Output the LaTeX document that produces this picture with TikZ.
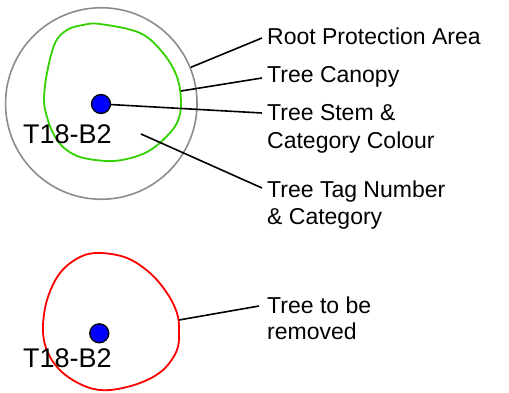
\documentclass[tikz,border=0pt]{standalone}
\usepackage{fontspec}
\setmainfont{Liberation Sans}
\definecolor{rpagrey}{HTML}{8C8C8C}
\definecolor{canopygreen}{HTML}{33D100}
\definecolor{removered}{HTML}{FF0000}
\definecolor{stemblue}{HTML}{0000FF}
\tikzset{
  lbl/.style={anchor=base west, inner sep=0pt, align=left, font=\fontsize{23}{28}\selectfont},
  tag/.style={anchor=base west, inner sep=0pt, font=\fontsize{27}{30}\selectfont},
  stemdot/.style={circle, draw=black, line width=1.3pt, fill=stemblue, minimum size=19pt, inner sep=0pt},
  leader/.style={draw=black, line width=1.6pt},
}
\begin{document}
\begin{tikzpicture}[x=1pt,y=-1pt]
\useasboundingbox (0,0) rectangle (509,393);
% upper tree
\node[circle, draw=rpagrey, line width=1.6pt, minimum size=191.5pt, inner sep=0pt] (rpa) at (101.3,103.5) {};
\draw[canopygreen, line width=1.8pt] plot[smooth cycle, tension=0.6] coordinates {
  (100,24) (140,33) (163,53) (177,77) (181,103) (177,123) (163,140) (147,152) (127,159)
  (107,161) (80,157) (63,147) (53,133) (47,117) (44,100) (47,73) (55,43) (67,30) (83,25)};
\coordinate (canopyedge) at (181,91);
\coordinate (tagpoint) at (141,134);
\node[stemdot] (stem) at (101,104) {};
\node[tag] (tagtext) at (23,143.3) {T18-B2};

% labels (multi-line labels are placed by the baseline of their last line)
\node[lbl] (lroot) at (267,45) {Root Protection Area};
\node[lbl] (lcanopy) at (267,83) {Tree Canopy};
\node[lbl] (lstem) at (267,149) {Tree Stem \&\\Category Colour};
\node[lbl, font=\fontsize{23}{27}\selectfont] (ltag) at (267,224) {Tree Tag Number\\\& Category};

\coordinate (eroot) at (262,38);
\coordinate (ecanopy) at (262,78);
\coordinate (estem) at (262,113);
\coordinate (etag) at (262,188);

\draw[leader] (rpa.22) -- (eroot);
\draw[leader] (canopyedge) -- (ecanopy);
\draw[leader] (stem) -- (estem);
\draw[leader] (tagpoint) -- (etag);

% lower tree
\draw[removered, line width=1.8pt] plot[smooth cycle, tension=0.6] coordinates {
  (100,253) (127,258) (150,273) (167,293) (177,313) (179,330) (177,350) (163,370) (140,383)
  (110,390) (87,387) (63,373) (48,353) (43,330) (47,300) (60,273) (80,257)};
\coordinate (removeedge) at (179,320);
\node[stemdot] (stemb) at (99.3,333.3) {};
\node[tag] (tagtextb) at (23,367.3) {T18-B2};
\node[lbl, font=\fontsize{23}{26}\selectfont] (lremove) at (267,339) {Tree to be\\removed};
\coordinate (eremove) at (259,306);
\draw[leader] (removeedge) -- (eremove);
\end{tikzpicture}
\end{document}
